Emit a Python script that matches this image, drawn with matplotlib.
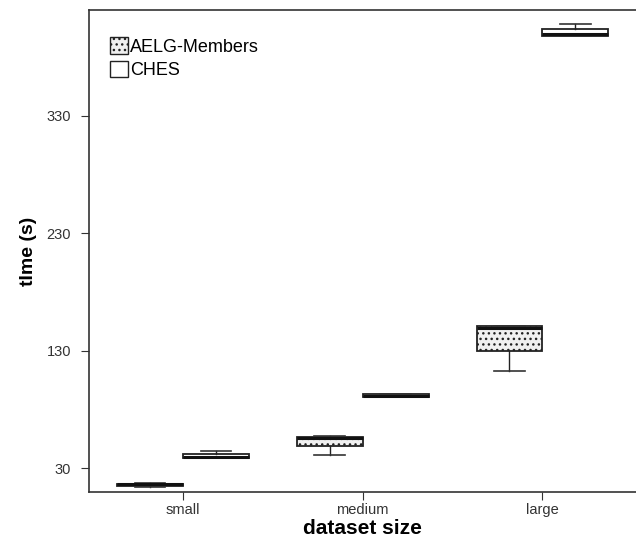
import matplotlib.pyplot as plt
import matplotlib.patches as mpatches
import numpy as np

plt.rcParams['font.family'] = ['Liberation Sans', 'DejaVu Sans']
plt.rcParams['hatch.color'] = '#666666'
plt.rcParams['hatch.linewidth'] = 1.0

categories = ['small', 'medium', 'large']
series = ['AELG-Members', 'CHES']

# five-number summaries per category: whislo, q1, med, q3, whishi
aelg_whislo = [13.5, 41.5, 113.0]
aelg_q1 = [14.5, 48.5, 130.0]
aelg_med = [16.0, 55.5, 149.0]
aelg_q3 = [16.5, 56.5, 150.5]
aelg_whishi = [17.0, 57.0, 151.0]

ches_whislo = [38.5, 90.5, 398.0]
ches_q1 = [38.5, 90.8, 398.0]
ches_med = [39.0, 91.5, 399.0]
ches_q3 = [42.0, 92.8, 403.5]
ches_whishi = [44.5, 93.3, 408.0]


def stats(lo, q1, med, q3, hi):
    return [dict(whislo=a, q1=b, med=c, q3=d, whishi=e, fliers=[])
            for a, b, c, d, e in zip(lo, q1, med, q3, hi)]


fig = plt.figure(figsize=(6.36, 5.37), dpi=100)
ax = fig.add_axes([89 / 636, 45 / 537, 547 / 636, 482 / 537])

x = np.arange(1, len(categories) + 1)
w = 0.367
common = dict(widths=w, capwidths=0.17, patch_artist=True, showfliers=False,
              whiskerprops=dict(color='#222222', lw=1.0),
              capprops=dict(color='#333333', lw=1.2),
              medianprops=dict(color='#111111', lw=2.2))

b1 = ax.bxp(stats(aelg_whislo, aelg_q1, aelg_med, aelg_q3, aelg_whishi),
            positions=x - w / 2, **common)
for p in b1['boxes']:
    p.set_facecolor('#f0f0f0')
    p.set_edgecolor('#222222')
    p.set_linewidth(1.3)
    p.set_hatch('...')

b2 = ax.bxp(stats(ches_whislo, ches_q1, ches_med, ches_q3, ches_whishi),
            positions=x + w / 2, **common)
for p in b2['boxes']:
    p.set_facecolor('white')
    p.set_edgecolor('#222222')
    p.set_linewidth(1.3)

ax.set_xlim(0.478, 3.52)
ax.set_ylim(9.6, 419.8)
ax.set_xticks(x)
ax.set_xticklabels(categories)
ax.set_yticks([30, 130, 230, 330])
ax.tick_params(axis='both', labelsize=10.5, length=6, color='#333333', labelcolor='#333333')
ax.tick_params(axis='y', pad=7)
ax.tick_params(axis='x', pad=2)
ax.spines['right'].set_visible(False)
for s in ['left', 'top', 'bottom']:
    ax.spines[s].set_color('#333333')
    ax.spines[s].set_linewidth(1.2)

ax.set_xlabel('dataset size', fontsize=15, fontweight='bold', labelpad=1)
ax.set_ylabel('tIme (s)', fontsize=14, fontweight='bold', labelpad=7)

handles = [mpatches.Patch(facecolor='#f0f0f0', edgecolor='#222222', hatch='...'),
           mpatches.Patch(facecolor='white', edgecolor='#222222')]
ax.legend(handles, series, loc='upper left', frameon=False, fontsize=13,
          handlelength=1.0, handleheight=1.0, handletextpad=0.1,
          labelspacing=0.3, borderpad=0, borderaxespad=0,
          bbox_to_anchor=(0.038, 0.943))

fig.savefig('out.png')
